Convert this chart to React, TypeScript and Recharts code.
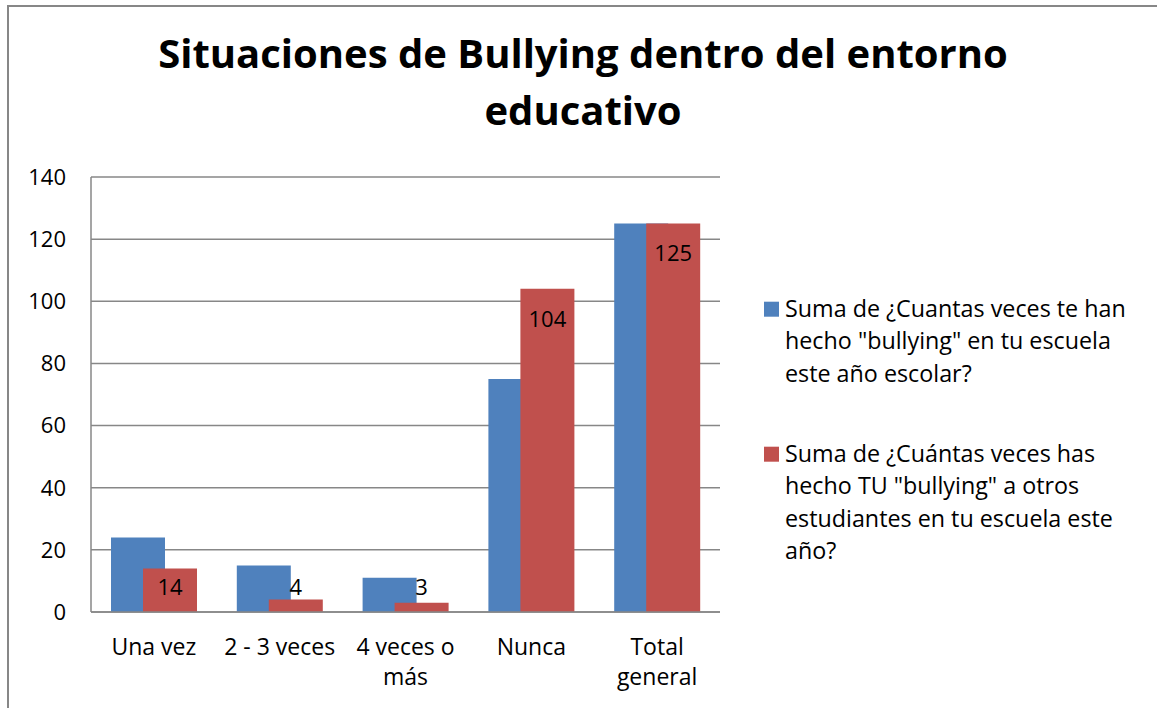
import React from 'react';
import { BarChart, Bar, XAxis, YAxis, CartesianGrid, Legend, LabelList } from 'recharts';

const categories = ['Una vez', '2 - 3 veces', '4 veces o más', 'Nunca', 'Total general'];
const categoryLines = [['Una vez'], ['2 - 3 veces'], ['4 veces o', 'más'], ['Nunca'], ['Total', 'general']];
const seriesAName = 'Suma de ¿Cuantas veces te han hecho "bullying" en tu escuela este año escolar?';
const seriesBName = 'Suma de ¿Cuántas veces has hecho TU "bullying" a otros estudiantes en tu escuela este año?';
const seriesALines = ['Suma de ¿Cuantas veces te han', 'hecho "bullying" en tu escuela', 'este año escolar?'];
const seriesBLines = ['Suma de ¿Cuántas veces has', 'hecho TU "bullying" a otros', 'estudiantes en tu escuela este', 'año?'];
const seriesA = [24, 15, 11, 75, 125];
const seriesB = [14, 4, 3, 104, 125];
const yTicks = [0, 20, 40, 60, 80, 100, 120, 140];
const titleLines = ['Situaciones de Bullying dentro del entorno', 'educativo'];

const FONT = '"Open Sans", Lato, sans-serif';
const BLUE = '#4F81BD';
const RED = '#C0504D';
const GRID = '#878787';

const data = categories.map((c, i) => ({ category: c, a: seriesA[i], b: seriesB[i] }));

const XTick = (props: any) => {
  const { x, y, payload } = props;
  const idx = categories.indexOf(payload.value);
  const lines = idx >= 0 ? categoryLines[idx] : [String(payload.value)];
  return (
    <g>
      {lines.map((l, i) => (
        <text key={i} x={x} y={y + 43 + i * 30} textAnchor="middle" fontFamily={FONT} fontSize={23} fill="#000">
          {l}
        </text>
      ))}
    </g>
  );
};

const RedLabel = (props: any) => {
  const { x, y, width, height, value } = props;
  const base = y + height;
  const cy = Math.min(y + 30, base - 24.5);
  return (
    <text x={x + width / 2} y={cy} dy="0.355em" textAnchor="middle" fontFamily={FONT} fontSize={22} fill="#000">
      {value}
    </text>
  );
};

const LegendContent = (props: any) => {
  const { payload } = props;
  const items = payload || [];
  const starts = [26.7, 171.7];
  return (
    <svg width={395} height={290} style={{ overflow: 'visible' }}>
      {items.map((item: any, k: number) => {
        const lines = item.dataKey === 'a' ? seriesALines : seriesBLines;
        const b0 = starts[k] ?? 26.7;
        return (
          <g key={k}>
            <rect x={4} y={b0 - 15} width={15} height={15} fill={item.color} />
            {lines.map((l, i) => (
              <text key={i} x={25} y={b0 + i * 32.5} fontFamily={FONT} fontSize={23.3} fill="#000">
                {l}
              </text>
            ))}
          </g>
        );
      })}
    </svg>
  );
};

export default function App() {
  return (
    <div style={{ position: 'absolute', left: 0, top: 0, width: 1157, height: 708, background: '#fff', overflow: 'hidden' }}>
      <BarChart
        width={1157}
        height={708}
        data={data}
        margin={{ top: 177, right: 437, bottom: 0, left: 0 }}
        barSize={54}
        barGap={-22}
        barCategoryGap={0}
      >
        <CartesianGrid vertical={false} stroke={GRID} strokeWidth={1.5} />
        <XAxis
          dataKey="category"
          height={96}
          axisLine={{ stroke: GRID, strokeWidth: 1.5 }}
          tickLine={false}
          tickSize={0}
          tickMargin={0}
          interval={0}
          tick={<XTick />}
        />
        <YAxis
          width={91}
          domain={[0, 140]}
          ticks={yTicks}
          interval={0}
          axisLine={{ stroke: GRID, strokeWidth: 1.5 }}
          tickLine={false}
          tickSize={0}
          tickMargin={25}
          tick={{ fill: '#000', fontSize: 22, fontFamily: FONT }}
        />
        <Legend
          layout="horizontal"
          align="center"
          verticalAlign="middle"
          wrapperStyle={{ left: 760, top: 290, width: 395, height: 290 }}
          content={<LegendContent />}
        />
        <Bar dataKey="a" name={seriesAName} fill={BLUE} isAnimationActive={false} />
        <Bar dataKey="b" name={seriesBName} fill={RED} isAnimationActive={false}>
          <LabelList dataKey="b" content={<RedLabel />} />
        </Bar>
      </BarChart>
      <svg width={1157} height={708} style={{ position: 'absolute', left: 0, top: 0, pointerEvents: 'none' }}>
        <rect x={8} y={6} width={1160} height={720} fill="none" stroke={GRID} strokeWidth={2} />
        {titleLines.map((t, i) => (
          <text key={i} x={583} y={68 + i * 57} textAnchor="middle" fontFamily={FONT} fontWeight="bold" fontSize={40} fill="#000">
            {t}
          </text>
        ))}
      </svg>
    </div>
  );
}
